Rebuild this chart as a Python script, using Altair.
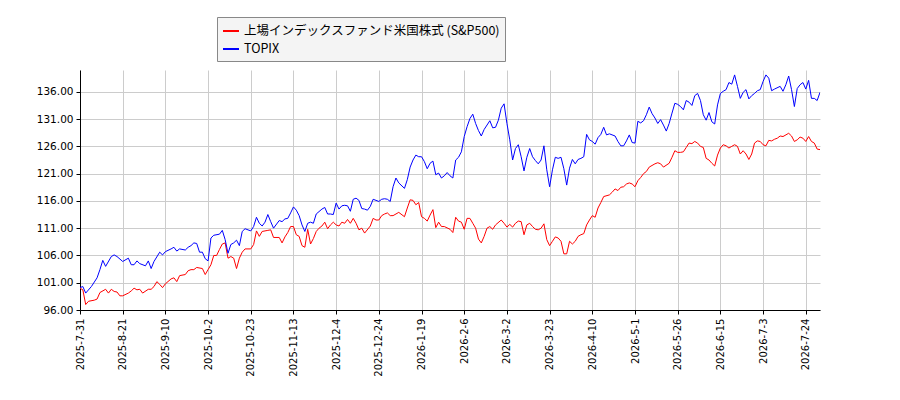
import altair as alt
import pandas as pd

# x is the trading-day index, ticks every 15 trading days
tick_labels = ['2025-7-31', '2025-8-21', '2025-9-10', '2025-10-2', '2025-10-23',
               '2025-11-13', '2025-12-4', '2025-12-24', '2026-1-19', '2026-2-6',
               '2026-3-2', '2026-3-23', '2026-4-10', '2026-5-1', '2026-5-26',
               '2026-6-15', '2026-7-3', '2026-7-24']
y_ticks = [96, 101, 106, 111, 116, 121, 126, 131, 136]

sp500_name = '上場インデックスファンド米国株式 (S&P500)'
topix_name = 'TOPIX'

sp500 = [
    (0, 100.0), (1, 99.7), (2, 97.0), (3, 97.6), (5, 97.8), (6, 98.0), (7, 99.2),
    (9, 99.8), (10, 99.1), (11, 99.8), (12, 99.4), (13, 99.3), (14, 98.6), (15, 98.6),
    (17, 99.1), (18, 99.5), (19, 100.0), (20, 99.7), (21, 99.8), (22, 99.1), (24, 99.8),
    (25, 99.8), (26, 100.3), (27, 101.2), (28, 100.7), (29, 100.1), (30, 100.8),
    (32, 101.7), (33, 101.9), (34, 101.2), (35, 102.3), (37, 102.5), (38, 103.2),
    (39, 103.4), (40, 103.4), (41, 103.8), (43, 103.6), (44, 102.5), (45, 103.4),
    (46, 104.3), (47, 106.0), (48, 106.0), (49, 107.1), (50, 108.1), (51, 108.3),
    (52, 105.5), (53, 105.8), (54, 105.5), (55, 103.6), (56, 105.5), (57, 106.6),
    (58, 107.2), (60, 107.2), (61, 108.0), (62, 110.5), (63, 109.5), (64, 110.4),
    (65, 110.5), (66, 110.6), (67, 110.7), (68, 109.3), (70, 109.3), (71, 108.3),
    (72, 109.4), (73, 110.2), (74, 111.3), (75, 111.3), (76, 109.8), (77, 109.5),
    (78, 107.8), (79, 107.5), (80, 110.8), (81, 108.1), (82, 109.1), (83, 110.4),
    (84, 111.0), (85, 111.4), (86, 112.1), (87, 110.9), (88, 111.6), (89, 112.1),
    (90, 111.6), (91, 111.4), (92, 112.1), (93, 111.9), (94, 112.6), (95, 111.9),
    (96, 112.8), (97, 111.9), (98, 110.7), (99, 111.0), (100, 110.1), (102, 111.4),
    (103, 112.8), (104, 112.5), (105, 112.5), (106, 113.3), (107, 113.6), (108, 113.8),
    (109, 113.3), (110, 113.3), (112, 113.9), (114, 113.1), (115, 114.7), (116, 116.2),
    (117, 116.1), (118, 115.3), (119, 115.7), (120, 113.1), (121, 112.8), (122, 112.3),
    (123, 113.4), (124, 114.4), (125, 111.1), (126, 112.1), (127, 111.3), (128, 111.3),
    (130, 110.8), (131, 110.2), (132, 113.0), (133, 112.3), (134, 112.1), (135, 110.8),
    (136, 112.8), (137, 112.8), (138, 111.9), (139, 111.0), (140, 109.0), (141, 108.3),
    (142, 109.5), (143, 111.0), (144, 111.3), (145, 110.8), (146, 111.6), (148, 112.5),
    (149, 111.9), (150, 111.2), (151, 111.7), (152, 111.2), (153, 111.9), (154, 112.3),
    (155, 112.2), (156, 109.8), (157, 111.6), (158, 111.9), (159, 111.3), (160, 110.8),
    (161, 110.7), (162, 111.0), (163, 111.8), (164, 108.9), (165, 107.8), (166, 108.6),
    (167, 109.4), (168, 109.2), (169, 108.6), (170, 106.3), (171, 106.3), (172, 108.6),
    (173, 108.1), (174, 108.6), (175, 109.5), (176, 109.8), (177, 110.0), (178, 111.6),
    (179, 112.5), (180, 113.3), (181, 113.0), (182, 114.7), (183, 115.7), (184, 116.8),
    (186, 117.1), (187, 117.6), (188, 118.2), (189, 117.9), (190, 118.5), (191, 118.6),
    (192, 119.1), (193, 119.3), (194, 119.1), (195, 118.6), (196, 119.7), (197, 120.3),
    (198, 121.0), (199, 121.4), (200, 122.2), (202, 122.8), (203, 123.0), (204, 122.8),
    (205, 122.2), (207, 122.9), (208, 124.0), (209, 125.2), (210, 124.9), (211, 124.9),
    (212, 125.0), (213, 125.8), (214, 126.6), (215, 126.5), (216, 126.9), (217, 126.6),
    (218, 126.0), (219, 125.8), (220, 123.8), (221, 123.5), (222, 122.9), (223, 122.4),
    (224, 124.4), (225, 125.7), (226, 126.3), (227, 126.1), (228, 125.7), (229, 126.0),
    (230, 126.3), (231, 126.0), (232, 124.6), (233, 125.2), (234, 124.6), (235, 123.6),
    (236, 124.6), (237, 126.6), (238, 127.0), (239, 126.9), (240, 126.3), (241, 126.1),
    (242, 127.1), (243, 127.0), (244, 127.3), (245, 127.5), (246, 127.9), (247, 127.8),
    (249, 128.4), (250, 127.9), (251, 126.9), (252, 127.2), (253, 127.7), (254, 127.5),
    (255, 126.9), (256, 127.8), (257, 126.9), (258, 126.6), (259, 125.5), (260, 125.4),
]

topix = [
    (0, 100.1), (1, 100.3), (2, 99.1), (4, 100.3), (6, 101.9), (7, 103.4), (8, 105.1),
    (9, 104.0), (11, 105.8), (12, 106.1), (13, 105.8), (15, 104.9), (17, 105.5),
    (18, 104.3), (19, 104.3), (20, 105.0), (21, 104.5), (23, 104.1), (24, 105.0),
    (25, 103.6), (26, 104.9), (28, 106.6), (29, 106.1), (30, 106.7), (32, 107.2),
    (33, 107.5), (34, 106.8), (35, 107.2), (37, 107.0), (38, 107.5), (39, 107.8),
    (40, 108.3), (41, 108.2), (42, 106.6), (43, 106.6), (44, 105.4), (45, 105.0),
    (46, 109.2), (47, 109.7), (49, 109.9), (50, 110.6), (51, 108.9), (52, 106.4),
    (53, 108.0), (54, 108.3), (55, 108.8), (56, 107.8), (57, 110.4), (58, 110.9),
    (60, 110.5), (61, 111.3), (62, 113.0), (63, 111.9), (64, 111.4), (65, 112.1),
    (66, 113.5), (67, 112.2), (68, 111.0), (70, 112.4), (71, 112.2), (72, 112.7),
    (73, 112.8), (74, 113.8), (75, 114.9), (76, 114.3), (77, 113.3), (78, 111.6),
    (79, 110.4), (80, 111.9), (81, 112.1), (82, 111.9), (83, 113.6), (85, 114.5),
    (86, 114.8), (87, 113.6), (88, 113.6), (89, 113.5), (90, 115.6), (91, 114.5),
    (92, 115.1), (93, 115.2), (94, 115.1), (95, 114.1), (96, 116.3), (97, 116.5),
    (98, 116.1), (99, 114.6), (100, 114.5), (101, 114.3), (102, 115.0), (103, 116.3),
    (104, 116.1), (105, 115.9), (106, 116.3), (107, 116.4), (108, 116.3), (109, 115.9),
    (110, 118.6), (111, 120.2), (112, 119.3), (114, 118.3), (115, 119.9), (116, 122.2),
    (117, 123.5), (118, 124.4), (119, 124.1), (120, 124.1), (121, 123.2), (122, 121.9),
    (123, 122.9), (124, 123.3), (125, 120.8), (126, 121.1), (127, 120.2), (128, 120.6),
    (129, 121.2), (130, 120.6), (131, 120.2), (132, 123.5), (133, 124.0), (134, 125.0),
    (135, 127.8), (136, 129.6), (137, 131.1), (138, 131.9), (139, 130.2), (140, 128.9),
    (141, 127.9), (142, 129.1), (144, 130.7), (145, 129.4), (146, 129.5), (147, 130.8),
    (148, 133.0), (149, 133.8), (150, 130.2), (151, 127.2), (152, 123.5), (153, 125.6),
    (154, 126.3), (155, 124.1), (156, 121.5), (157, 124.0), (158, 125.6), (159, 124.1),
    (160, 123.4), (161, 122.8), (162, 123.5), (163, 126.1), (164, 121.7), (165, 118.6),
    (166, 121.7), (167, 124.0), (168, 123.8), (169, 124.0), (170, 121.9), (171, 118.9),
    (172, 122.0), (173, 123.6), (174, 122.8), (175, 123.6), (176, 123.8), (177, 124.1),
    (178, 128.2), (179, 127.2), (180, 126.9), (181, 126.4), (182, 127.6), (183, 128.2),
    (184, 129.5), (185, 128.1), (186, 128.3), (188, 127.9), (189, 126.9), (190, 126.1),
    (191, 126.1), (192, 127.0), (193, 128.1), (194, 126.7), (195, 126.6), (196, 130.6),
    (197, 130.3), (198, 130.7), (199, 131.8), (200, 133.2), (201, 132.0), (202, 131.2),
    (203, 130.2), (204, 130.9), (205, 129.9), (206, 128.8), (207, 130.2), (208, 132.1),
    (209, 133.9), (210, 133.7), (211, 133.3), (212, 132.7), (213, 134.4), (214, 134.1),
    (215, 133.5), (216, 135.3), (217, 135.7), (218, 134.4), (219, 131.8), (220, 130.8),
    (221, 132.2), (222, 130.5), (223, 130.1), (224, 133.6), (225, 135.7), (226, 136.1),
    (227, 136.4), (228, 137.7), (229, 137.4), (230, 139.1), (231, 137.0), (232, 134.8),
    (233, 135.9), (234, 136.4), (235, 134.7), (236, 135.3), (237, 135.7), (238, 136.2),
    (239, 136.4), (240, 137.9), (241, 139.1), (242, 138.5), (243, 136.2), (244, 136.5),
    (246, 137.0), (247, 136.1), (248, 137.3), (249, 138.9), (250, 136.4), (251, 133.3),
    (252, 136.6), (253, 137.3), (254, 137.7), (255, 136.5), (256, 138.1), (257, 134.8),
    (258, 134.8), (259, 134.4), (260, 135.9),
]

rows = [{'day': d, 'value': v, 'series': sp500_name} for d, v in sp500]
rows += [{'day': d, 'value': v, 'series': topix_name} for d, v in topix]
df = pd.DataFrame(rows)

tick_pos = [15 * i for i in range(len(tick_labels))]
label_js = '[' + ','.join("'%s'" % t for t in tick_labels) + '][round(datum.value / 15)]'

chart = alt.Chart(df).mark_line(strokeWidth=1, clip=True).encode(
    x=alt.X('day:Q', scale=alt.Scale(domain=[0, 260], nice=False, zero=False),
            axis=alt.Axis(values=tick_pos, labelExpr=label_js, labelAngle=-90,
                          labelAlign='right', labelBaseline='middle', title=None,
                          labelFontSize=10, labelPadding=4, labelFlush=False,
                          labelOverlap=False, labelBound=False)),
    y=alt.Y('value:Q', scale=alt.Scale(domain=[96, 140], nice=False, zero=False),
            axis=alt.Axis(values=y_ticks, format='.2f', title=None,
                          labelFontSize=10.5, labelPadding=3, labelFlush=False)),
    color=alt.Color('series:N',
                    scale=alt.Scale(domain=[sp500_name, topix_name], range=['#ff0000', '#0000ff']),
                    legend=alt.Legend(title=None, orient='none', legendX=137, legendY=-53,
                                      symbolType='stroke', symbolStrokeWidth=2, symbolSize=256,
                                      labelFont='Noto Sans CJK JP', labelFontSize=12.5,
                                      labelLimit=0, labelColor='#000000', fillColor='#f4f4f4',
                                      strokeColor='#888888', padding=5, rowPadding=2)),
    order='day:Q',
).properties(
    width=740, height=240,
    autosize='none',
    padding={'left': 72, 'top': 62, 'right': 10, 'bottom': 82},
).configure_view(
    stroke=None
).configure_axis(
    labelFont='DejaVu Sans', labelColor='#000000', domainColor='#000000',
    tickColor='#000000', tickSize=4, gridColor='#cccccc', gridWidth=1
)

chart.save('out.html', embed_options={'renderer': 'svg', 'actions': False})
